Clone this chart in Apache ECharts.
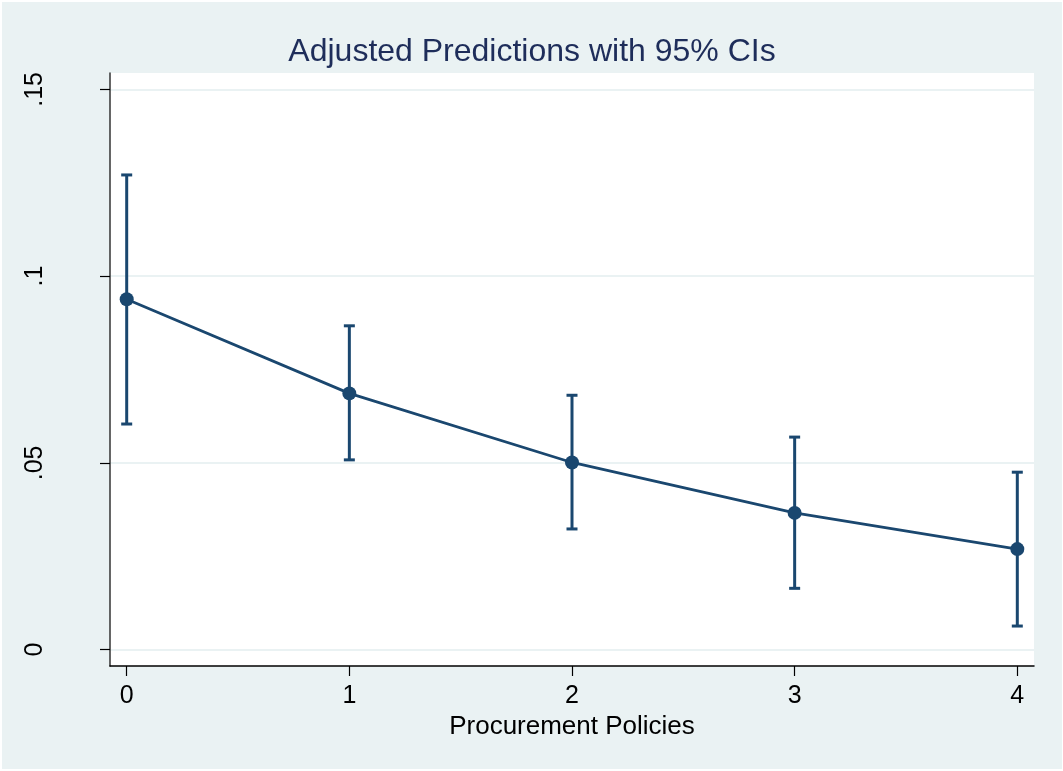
<!DOCTYPE html>
<html>
<head>
<meta charset="utf-8">
<title>Adjusted Predictions with 95% CIs</title>
<script src="https://cdn.jsdelivr.net/npm/echarts@6/dist/echarts.min.js"></script>
<style>
  html, body { margin: 0; padding: 0; background: #ffffff; }
  #chart { width: 1063px; height: 771px; }
</style>
</head>
<body>
<div id="chart"></div>
<script>
// Number of procurement policies (x positions)
const policies = [0, 1, 2, 3, 4];
// Predicted probability at each level
const predicted = [0.0938, 0.0686, 0.0501, 0.0366, 0.0269];
// 95% confidence bounds
const ciLower = [0.0604, 0.0508, 0.0323, 0.0164, 0.0063];
const ciUpper = [0.1271, 0.0867, 0.0681, 0.0569, 0.0475];

// Axis ticks and their printed labels
const xTickValues = [0, 1, 2, 3, 4];
const xTickLabels = ['0', '1', '2', '3', '4'];
const yTickValues = [0, 0.05, 0.1, 0.15];
const yTickLabels = ['0', '.05', '.1', '.15'];

const navy = '#1a476f';
const font = '"Liberation Sans", Arial, Helvetica, sans-serif';

const lineData = policies.map((x, i) => [x, predicted[i]]);
const ciData = policies.map((x, i) => [x, ciLower[i], ciUpper[i]]);

function labelFor(values, labels) {
  return function (v) {
    for (let i = 0; i < values.length; i++) {
      if (Math.abs(values[i] - v) < 1e-9) return labels[i];
    }
    return '';
  };
}

const chart = echarts.init(document.getElementById('chart'), null, { renderer: 'canvas' });

chart.setOption({
  animation: false,
  backgroundColor: '#ffffff',
  graphic: [{
    type: 'rect',
    z: -10,
    silent: true,
    shape: { x: 2, y: 2, width: 1060, height: 767 },
    style: { fill: '#eaf2f3' }
  }],
  title: {
    text: 'Adjusted Predictions with 95% CIs',
    left: 527,
    textAlign: 'center',
    top: 31,
    textStyle: { fontFamily: font, fontSize: 32, fontWeight: 'normal', color: '#1e2d5a' }
  },
  grid: {
    left: 110, right: 29, top: 73, bottom: 105,
    show: true, backgroundColor: '#ffffff', borderWidth: 0
  },
  xAxis: {
    type: 'value',
    min: -0.075, max: 4.075,
    name: 'Procurement Policies',
    nameLocation: 'middle',
    nameGap: 42,
    nameTextStyle: { fontFamily: font, fontSize: 26, color: '#000' },
    axisLine: { show: true, onZero: false, lineStyle: { color: '#000', width: 1.5 } },
    axisTick: { show: true, length: 10, customValues: xTickValues, lineStyle: { color: '#000', width: 1.2 } },
    axisLabel: {
      customValues: xTickValues,
      formatter: labelFor(xTickValues, xTickLabels),
      fontFamily: font, fontSize: 25, color: '#000', margin: 18
    },
    splitLine: { show: false }
  },
  yAxis: {
    type: 'value',
    min: -0.0044, max: 0.1544,
    axisLine: { show: true, onZero: false, lineStyle: { color: '#333', width: 1.5 } },
    axisTick: { show: true, length: 10, customValues: yTickValues, lineStyle: { color: '#000', width: 1.2 } },
    axisLabel: {
      customValues: yTickValues,
      formatter: labelFor(yTickValues, yTickLabels),
      rotate: 90,
      fontFamily: font, fontSize: 25, color: '#000', margin: 62
    },
    splitLine: { show: true, lineStyle: { color: '#eaf2f3', width: 2 } }
  },
  series: [
    {
      type: 'custom',
      name: '95% CI',
      data: ciData,
      z: 2,
      renderItem: function (params, api) {
        const x = api.value(0);
        const lo = api.coord([x, api.value(1)]);
        const hi = api.coord([x, api.value(2)]);
        const half = 5.5;
        const style = { stroke: navy, lineWidth: 3, fill: null };
        return {
          type: 'group',
          children: [
            { type: 'line', shape: { x1: lo[0], y1: lo[1], x2: hi[0], y2: hi[1] }, style: style },
            { type: 'line', shape: { x1: hi[0] - half, y1: hi[1], x2: hi[0] + half, y2: hi[1] }, style: style },
            { type: 'line', shape: { x1: lo[0] - half, y1: lo[1], x2: lo[0] + half, y2: lo[1] }, style: style }
          ]
        };
      }
    },
    {
      type: 'line',
      name: 'Prediction',
      data: lineData,
      z: 3,
      symbol: 'circle',
      symbolSize: 14,
      lineStyle: { color: navy, width: 2.8 },
      itemStyle: { color: navy, borderWidth: 0 }
    }
  ]
});
</script>
</body>
</html>
